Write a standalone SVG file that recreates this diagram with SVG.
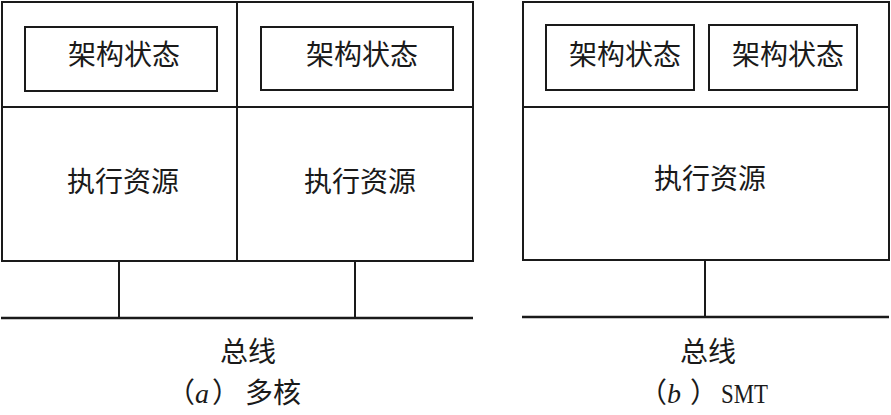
<svg xmlns="http://www.w3.org/2000/svg" width="891" height="415" viewBox="0 0 891 415">
<style>
.box{fill:#fff;stroke:#1a1a1a;stroke-width:2}
.ln{stroke:#1a1a1a;stroke-width:2;fill:none}
.bus{stroke:#1a1a1a;stroke-width:2.5;fill:none}
.t{font-family:"Noto Sans CJK SC","Noto Sans",sans-serif;font-size:28px;fill:#1a1a1a}
.lat{font-family:"Liberation Serif",serif;fill:#1a1a1a}
</style>
<rect x="0" y="0" width="891" height="415" fill="#fff"/>
<g id="core-a1">
<rect class="box" x="2" y="2" width="235" height="259"/>
<line class="ln" x1="2" y1="107" x2="237" y2="107"/>
<rect class="box" x="25" y="27" width="192" height="64"/>
<text class="t" x="68" y="65">架构状态</text>
<text class="t" x="67" y="192">执行资源</text>
</g>
<g id="core-a2">
<rect class="box" x="237" y="2" width="236" height="259"/>
<line class="ln" x1="237" y1="107" x2="473" y2="107"/>
<rect class="box" x="261" y="27" width="192" height="63"/>
<text class="t" x="306" y="65">架构状态</text>
<text class="t" x="304" y="192">执行资源</text>
</g>
<g id="smt-core">
<rect class="box" x="523" y="2" width="366" height="258"/>
<line class="ln" x1="523" y1="107" x2="889" y2="107"/>
<rect class="box" x="546" y="25" width="148" height="65"/>
<text class="t" x="569" y="65">架构状态</text>
<rect class="box" x="709" y="25" width="148" height="65"/>
<text class="t" x="732" y="65">架构状态</text>
<text class="t" x="654" y="189">执行资源</text>
</g>
<g id="connectors">
<line class="ln" x1="119" y1="261" x2="119" y2="318"/>
<line class="ln" x1="355" y1="261" x2="355" y2="318"/>
<line class="bus" x1="1" y1="318" x2="473" y2="318"/>
<line class="ln" x1="705" y1="260" x2="705" y2="317"/>
<line class="bus" x1="522" y1="317" x2="889" y2="317"/>
</g>
<g id="labels">
<text class="t" x="220" y="362">总线</text>
<text class="t" x="680" y="362">总线</text>
<text class="t" y="403"><tspan x="167">（</tspan><tspan class="lat" x="195" font-style="italic">a</tspan><tspan x="212">）</tspan><tspan x="245">多核</tspan></text>
<text class="t" y="403"><tspan x="639">（</tspan><tspan class="lat" x="667" font-style="italic">b</tspan><tspan x="690">）</tspan></text>
<text class="lat" x="721" y="403" font-size="27" textLength="47" lengthAdjust="spacingAndGlyphs">SMT</text>
</g>
</svg>
